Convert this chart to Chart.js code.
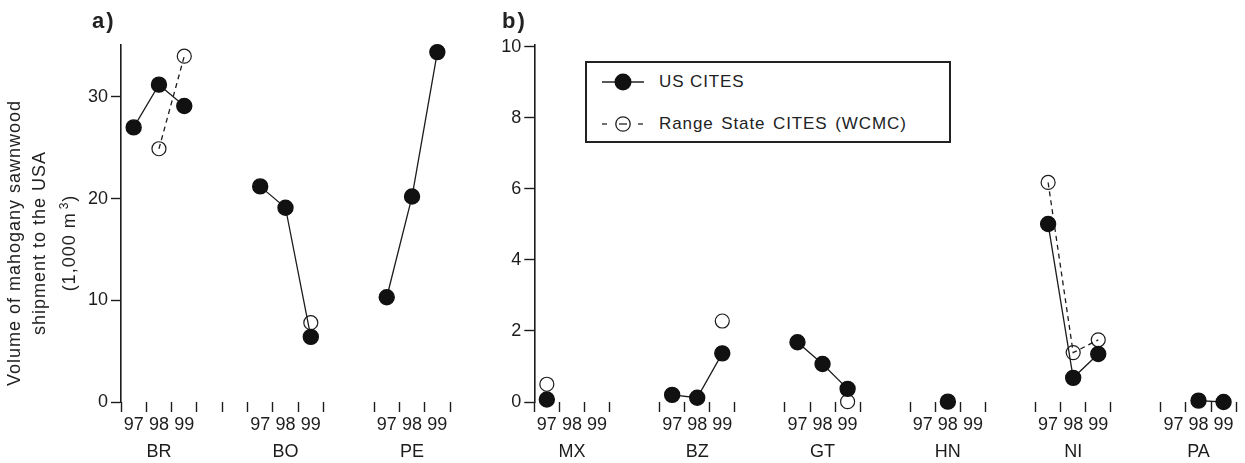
<!DOCTYPE html>
<html>
<head>
<meta charset="utf-8">
<script src="https://cdn.jsdelivr.net/npm/chart.js@4.4.1/dist/chart.umd.min.js"></script>
<style>
  html, body { margin: 0; padding: 0; background: #fff; }
  body { width: 1245px; height: 463px; position: relative; overflow: hidden;
         font-family: 'Liberation Sans', Arial, sans-serif; color: #222; }
  canvas { position: absolute; top: 0; }
  #chartA { left: 0; }
  #chartB { left: 460px; }
  .tag { position: absolute; top: 10px; font-size: 22px; font-weight: bold; line-height: 22px; letter-spacing: 2px; }
  #yTitle { position: absolute; left: 42px; top: 243px; width: 340px;
            transform: translate(-50%, -50%) rotate(-90deg);
            text-align: center; font-size: 18px; line-height: 25px; letter-spacing: 1px; white-space: nowrap; }
  #yTitle sup { font-size: 12px; margin-left: 3px; }
  #legend { position: absolute; left: 585px; top: 61px; width: 366px; height: 82px;
            box-sizing: border-box; border: 2px solid #222; background: #fff; }
  #legend svg { position: absolute; left: 15px; }
  #legend .txt { position: absolute; left: 72px; font-size: 17px; line-height: 20px; letter-spacing: 0.9px; white-space: nowrap; }
</style>
</head>
<body>
<canvas id="chartA" width="460" height="463"></canvas>
<canvas id="chartB" width="785" height="463"></canvas>

<div class="tag" style="left:92px">a)</div>
<div class="tag" style="left:502px">b)</div>
<div id="yTitle">Volume of mahogany sawnwood<br>shipment to the USA<br>(1,000 m<sup>3</sup>)</div>

<div id="legend">
  <svg width="42" height="20" style="top:9px">
    <line x1="0" y1="10" x2="42" y2="10" stroke="#222" stroke-width="1.4"/>
    <circle cx="21" cy="10" r="8.5" fill="#111"/>
  </svg>
  <div class="txt" style="top:9px">US CITES</div>
  <svg width="42" height="20" style="top:51px">
    <line x1="0" y1="10" x2="5" y2="10" stroke="#222" stroke-width="1.3"/>
    <line x1="17" y1="10" x2="25" y2="10" stroke="#222" stroke-width="1.3"/>
    <line x1="36" y1="10" x2="41" y2="10" stroke="#222" stroke-width="1.3"/>
    <circle cx="21" cy="10" r="7.2" fill="none" stroke="#222" stroke-width="1.3"/>
  </svg>
  <div class="txt" style="top:51px; word-spacing:2px">Range State CITES (WCMC)</div>
</div>

<script>
const INK = "#1c1c1c"

const years = ["97", "98", "99"]

// panel a (1,000 m3)
const countriesA = ["BR", "BO", "PE"]
const usCitesA = [[27.0, 31.2, 29.1], [21.2, 19.1, 6.4], [10.3, 20.2, 34.4]]
const rangeStateA = [[null, 24.9, 34.0], [null, null, 7.8], [null, null, null]]
const yTicksA = [0, 10, 20, 30]
const hiddenTicksA = [9]

// panel b
const countriesB = ["MX", "BZ", "GT", "HN", "NI", "PA"]
const usCitesB = [[0.07, null, null], [0.2, 0.12, 1.37], [1.68, 1.07, 0.37], [null, 0.01, null], [5.01, 0.68, 1.35], [null, 0.04, 0.0]]
const rangeStateB = [[0.5, null, null], [null, null, 2.28], [null, null, 0.01], [null, null, null], [6.18, 1.39, 1.75], [null, null, null]]
const yTicksB = [0, 2, 4, 6, 8, 10]
const hiddenTicksB = [4, 9, 14, 19, 24]

// each country gets 3 year slots, with 2 empty slots between countries
function slotLabels(countries) {
  const labels = []
  countries.forEach((c, g) => {
    if (g > 0) labels.push("", "")
    years.forEach((y, i) => labels.push(i === 1 ? [y, c] : y))
  })
  return labels
}

function slotValues(groups) {
  const out = []
  groups.forEach((vals, g) => {
    if (g > 0) out.push(null, null)
    vals.forEach(v => out.push(v))
  })
  return out
}

Chart.defaults.font.family = "'Liberation Sans', Arial, sans-serif"
Chart.defaults.color = INK

function makeChart(id, countries, usVals, rsVals, yMax, yTicks, hiddenTicks, yWidth, padRight) {
  const labels = slotLabels(countries)
  const nSlots = labels.length

  return new Chart(document.getElementById(id), {
    type: "line",
    data: {
      labels: labels,
      datasets: [
        {
          label: "US CITES",
          data: slotValues(usVals),
          borderColor: INK,
          borderWidth: 1.3,
          pointRadius: 7.5,
          pointBorderWidth: 1.4,
          pointBackgroundColor: "#111",
          pointBorderColor: "#111",
          clip: false
        },
        {
          label: "Range State CITES (WCMC)",
          data: slotValues(rsVals),
          borderColor: INK,
          borderWidth: 1.3,
          borderDash: [5, 4],
          pointRadius: 7,
          pointBorderWidth: 1.2,
          pointBackgroundColor: "rgba(0,0,0,0)",
          pointBorderColor: INK,
          clip: false
        }
      ]
    },
    options: {
      responsive: false,
      animation: false,
      devicePixelRatio: 1,
      layout: { padding: { top: 45, right: padRight, bottom: 0, left: 0 } },
      plugins: {
        legend: { display: false },
        tooltip: { enabled: false }
      },
      scales: {
        x: {
          type: "category",
          offset: true,
          border: { display: false },
          grid: {
            offset: true,
            drawOnChartArea: false,
            tickLength: 10,
            tickWidth: 1.4,
            tickColor: ctx => {
              const i = ctx.type === "tick" ? ctx.index : nSlots
              return hiddenTicks.includes(i) ? "rgba(0,0,0,0)" : INK
            }
          },
          ticks: {
            autoSkip: false,
            maxRotation: 0,
            padding: 0,
            font: { size: 18, lineHeight: 1.5 }
          },
          afterFit: s => { s.height = 61 }
        },
        y: {
          min: 0,
          max: yMax,
          border: { display: true, color: INK, width: 1.6 },
          grid: { drawOnChartArea: false, tickLength: 10, tickWidth: 1.4, tickColor: INK },
          ticks: { padding: 3, font: { size: 18 } },
          afterBuildTicks: s => { s.ticks = yTicks.map(v => ({ value: v })) },
          afterFit: s => { s.width = yWidth }
        }
      }
    }
  })
}

makeChart("chartA", countriesA, usCitesA, rangeStateA, 35.1, yTicksA, hiddenTicksA, 121, 10)
makeChart("chartB", countriesB, usCitesB, rangeStateB, 10.05, yTicksB, hiddenTicksB, 74.3, 1.4)
</script>
</body>
</html>
